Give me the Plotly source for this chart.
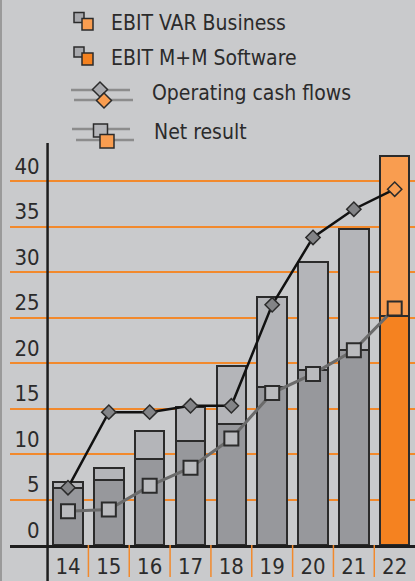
import plotly.graph_objects as go

# ---- data ----
years = ["14", "15", "16", "17", "18", "19", "20", "21", "22"]
ebit_mm_software = [6.3, 7.1, 9.4, 11.4, 13.3, 17.4, 19.2, 21.4, 25.2]
ebit_var_business = [0.6, 1.4, 3.1, 3.8, 6.4, 9.9, 11.9, 13.3, 17.5]
operating_cash_flows = [6.3, 14.6, 14.6, 15.3, 15.3, 26.4, 33.8, 36.9, 39.1]
net_result = [3.7, 3.9, 6.5, 8.5, 11.7, 16.7, 18.8, 21.4, 26.0]
y_ticks = [0, 5, 10, 15, 20, 25, 30, 35, 40]
legend_labels = ["EBIT VAR Business", "EBIT M+M Software", "Operating cash flows", "Net result"]

# ---- styles ----
BG = "#c9cacc"
DARK_GRAY = "#97989c"
LIGHT_GRAY = "#b4b5b9"
ORANGE_D = "#f58220"
ORANGE_L = "#f99d50"
EDGE = "#2b2b2b"
GRID = "#f2892c"
TXT = "#2b2b2b"
FONT = "Liberation Sans Narrow, Arial Narrow, DejaVu Sans Condensed, Roboto Condensed, sans-serif"

W, H = 415, 581
ML, MR, MT, MB = 10, 0, 143, 36
PW, PH = W - ML - MR, H - MT - MB
X_RANGE = [-1.42, 8.497]
Y_RANGE = [0, PH / 9.1]


def px(x):
    return (x - ML) / PW


def py(y):
    return (H - MB - y) / PH


n = len(years)
mm_colors = [DARK_GRAY] * (n - 1) + [ORANGE_D]
var_colors = [LIGHT_GRAY] * (n - 1) + [ORANGE_L]
sq_colors = ["#babbbe"] * (n - 1) + [ORANGE_L]
dia_colors = ["#838487"] * (n - 1) + [ORANGE_L]

fig = go.Figure()
fig.add_bar(x=years, y=ebit_mm_software, width=0.72,
            marker=dict(color=mm_colors, line=dict(color=EDGE, width=2)))
fig.add_bar(x=years, y=ebit_var_business, width=0.72,
            marker=dict(color=var_colors, line=dict(color=EDGE, width=2)))
fig.add_scatter(x=years, y=net_result, mode="lines+markers",
                line=dict(color="#6b6b6b", width=3),
                marker=dict(symbol="square", size=14, color=sq_colors,
                            line=dict(color=EDGE, width=2)))
fig.add_scatter(x=years, y=operating_cash_flows, mode="lines+markers",
                line=dict(color="#111111", width=2.5),
                marker=dict(symbol="diamond", size=11, color=dia_colors,
                            line=dict(color=EDGE, width=1.5)))

axis_pos = (-0.5 - X_RANGE[0]) / (X_RANGE[1] - X_RANGE[0])

fig.update_layout(
    width=W, height=H, margin=dict(l=ML, r=MR, t=MT, b=MB, autoexpand=False),
    paper_bgcolor=BG, plot_bgcolor=BG, showlegend=False, barmode="stack",
    font=dict(family=FONT, color=TXT, size=22),
    xaxis=dict(range=X_RANGE, showgrid=False, showline=True, linecolor="#1e1e1e",
               linewidth=2.5, ticks="", automargin=False,
               tickfont=dict(size=22, color=TXT, family=FONT)),
    yaxis=dict(range=Y_RANGE, tickvals=y_ticks, showgrid=True, gridcolor=GRID,
               gridwidth=1.5, zeroline=False, showline=False, anchor="free",
               position=axis_pos, ticks="", ticklabelshift=-15, ticklabelstandoff=8,
               automargin=False,
               tickfont=dict(size=22, color=TXT, family=FONT)),
)

shapes = []
# category separators below the baseline
for i in range(n - 1):
    shapes.append(dict(type="line", xref="x", yref="paper", x0=i + 0.5, x1=i + 0.5,
                       y0=py(577), y1=0, line=dict(color=GRID, width=1.5)))
# vertical axis line (extends below the baseline)
shapes.append(dict(type="line", xref="x", yref="paper", x0=-0.5, x1=-0.5,
                   y0=py(H), y1=1, line=dict(color="#1e1e1e", width=2.5)))
# left border
shapes.append(dict(type="line", xref="paper", yref="paper", x0=px(1), x1=px(1),
                   y0=py(H), y1=py(0), line=dict(color="#9a9a9a", width=2)))


def rect(x0, y0, x1, y1, fill, lw=1.5):
    return dict(type="rect", xref="paper", yref="paper", x0=px(x0), x1=px(x1),
                y0=py(y1), y1=py(y0), fillcolor=fill, line=dict(color=EDGE, width=lw))


def diamond(cx, cy, r, fill):
    path = "M {},{} L {},{} L {},{} L {},{} Z".format(
        px(cx - r), py(cy), px(cx), py(cy - r), px(cx + r), py(cy), px(cx), py(cy + r))
    return dict(type="path", xref="paper", yref="paper", path=path, fillcolor=fill,
                line=dict(color=EDGE, width=1.5))


def hline(x0, x1, y):
    return dict(type="line", xref="paper", yref="paper", x0=px(x0), x1=px(x1),
                y0=py(y), y1=py(y), line=dict(color="#8c8c8c", width=2.5))


# legend icons
shapes += [rect(74, 12.5, 84, 22.5, "#a8a9ad"), rect(82, 18.5, 93, 30, ORANGE_L)]
shapes += [rect(74, 47, 84, 57, "#a8a9ad"), rect(82, 53, 93, 65, ORANGE_D)]
shapes += [hline(71, 130, 90), hline(74, 133, 100),
           diamond(100, 89.5, 7.5, "#a8a9ad"), diamond(104, 100.5, 7.5, ORANGE_L)]
shapes += [hline(72, 130, 129), hline(76, 134, 140),
           rect(93.5, 124, 107.5, 137, "#b4b5b9"), rect(100, 134.5, 114, 148, ORANGE_L)]
fig.update_layout(shapes=shapes)

ann_pos = [(109, 22.5), (109, 57.5), (150, 92.5), (151.5, 132)]
for lab, (ax, ay) in zip(legend_labels, ann_pos):
    fig.add_annotation(text=lab, x=px(ax), y=py(ay), xref="paper", yref="paper",
                       xanchor="left", yanchor="middle", showarrow=False,
                       font=dict(size=21, color=TXT, family=FONT))

fig.write_html("out.html", config={"displayModeBar": False},
               post_script="document.body.style.margin='0px';")
